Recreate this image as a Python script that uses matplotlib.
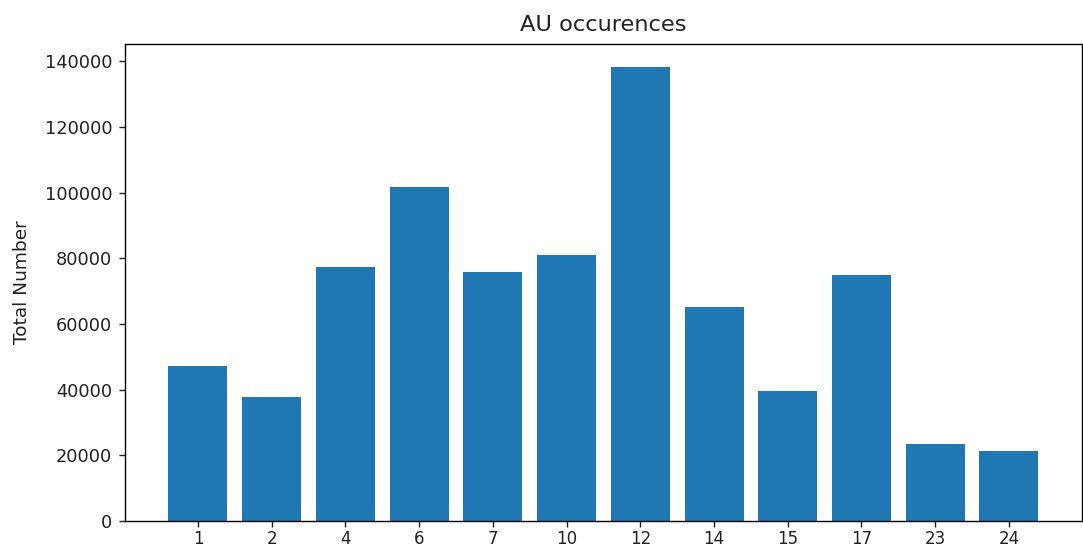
import matplotlib
matplotlib.use("Agg")
import matplotlib.pyplot as plt

categories = ["1", "2", "4", "6", "7", "10", "12", "14", "15", "17", "23", "24"]
counts = [47270, 37830, 77400, 101650, 75690, 81050, 138390, 65040, 39470, 74870, 23340, 21400]

fig = plt.figure(figsize=(10.83, 5.49), dpi=100)
ax = fig.add_axes([0.1154, 0.051, 0.8836, 0.869])
x = list(range(len(categories)))
ax.bar(x, counts, color="#1f77b4", width=0.8)
ax.set_xticks(x)
ax.set_xticklabels(categories)
ax.set_yticks([0, 20000, 40000, 60000, 80000, 100000, 120000, 140000])
ax.tick_params(axis="both", labelsize=12.8, length=4.5, width=1.0, pad=4.5, colors="#222222", labelcolor="#222222")
ax.tick_params(axis="x", labelsize=12.0, pad=2.0)
for s in ax.spines.values():
    s.set_linewidth(1.0)
ax.set_ylabel("Total Number", fontsize=13.3, color="#222222", labelpad=10)
ax.set_title("AU occurences", fontsize=16.2, color="#222222", pad=9)
fig.savefig("out.png", dpi=100)
